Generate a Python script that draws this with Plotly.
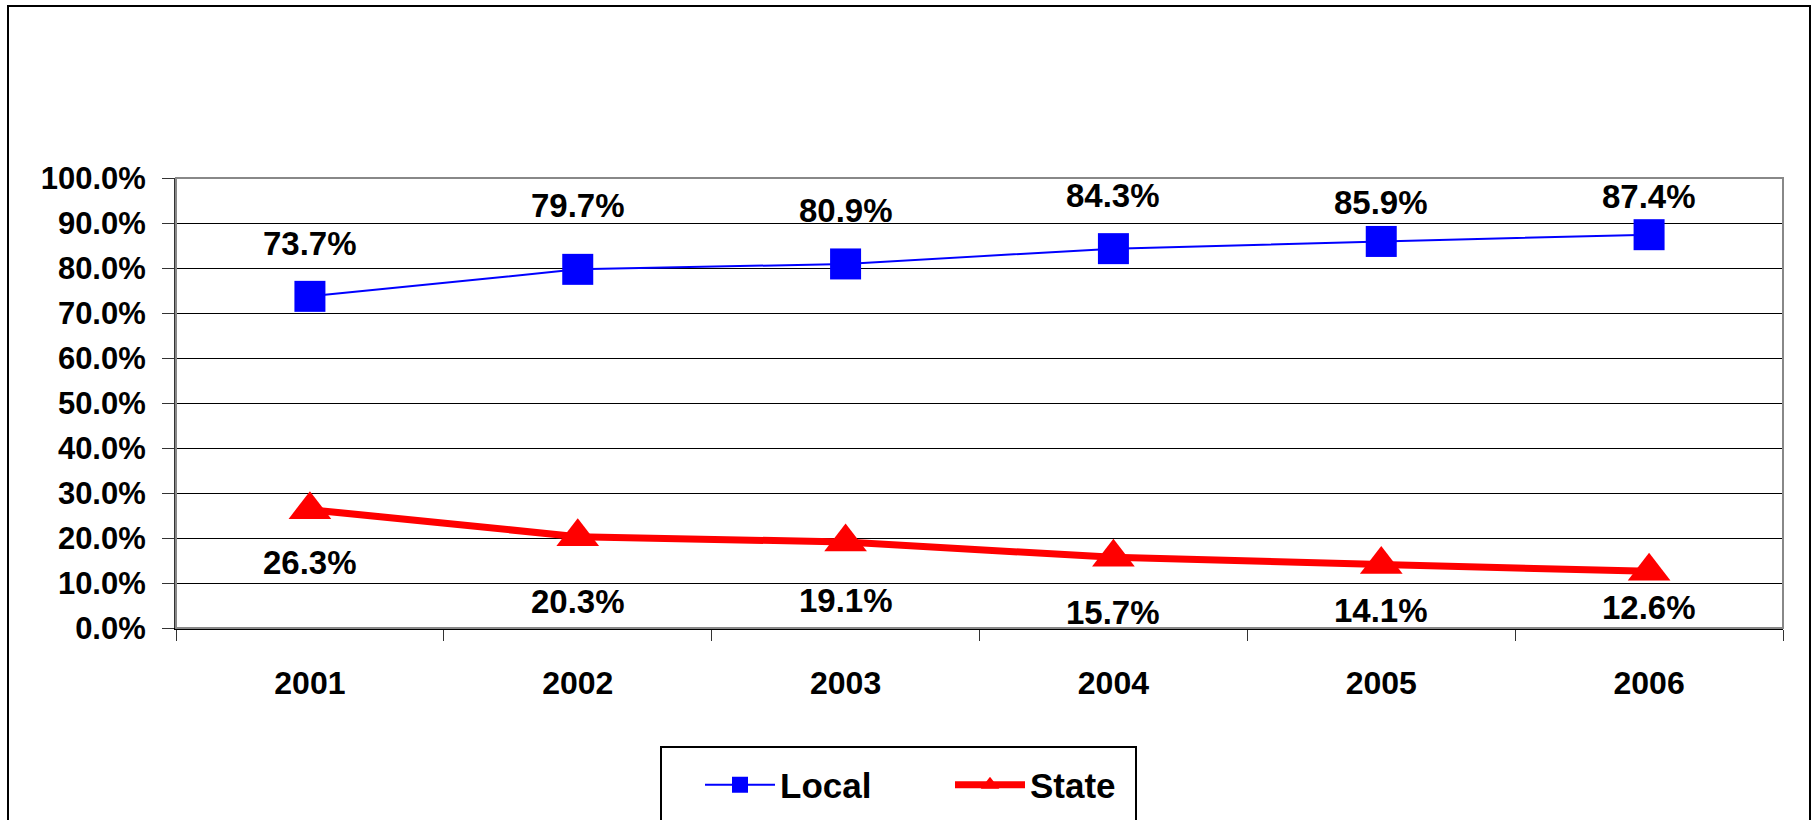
import plotly.graph_objects as go

years = ["2001", "2002", "2003", "2004", "2005", "2006"]
local = [73.7, 79.7, 80.9, 84.3, 85.9, 87.4]
state = [26.3, 20.3, 19.1, 15.7, 14.1, 12.6]
y_ticks = [0, 10, 20, 30, 40, 50, 60, 70, 80, 90, 100]

# label offsets (px) as placed in the original chart
local_label_shift = [53, 64, 53, 53, 39, 38]
state_label_shift = [-53, -65, -58, -55, -46, -36]

FONT = "Liberation Sans, Arial, sans-serif"
W, H = 1815, 820
L, R, T, B = 176, 32, 178, 192
PW, PH = W - L - R, H - T - B


def px_x(p):
    return (p - L) / PW


def px_y(p):
    return (H - B - p) / PH


fig = go.Figure()
fig.add_trace(go.Scatter(
    x=years, y=local, name="Local", mode="lines+markers",
    line=dict(color="#0000FF", width=2),
    marker=dict(symbol="square", size=31, color="#0000FF"),
))
fig.add_trace(go.Scatter(
    x=years, y=state, name="State", mode="lines+markers",
    line=dict(color="#FF0000", width=7),
    marker=dict(symbol="triangle-up", size=37, color="#FF0000"),
))

for i, (v, s) in enumerate(zip(local, local_label_shift)):
    fig.add_annotation(x=i, y=v, yshift=s, text=f"{v:.1f}%", showarrow=False,
                       font=dict(family=FONT, size=33, color="black", weight="bold"))
for i, (v, s) in enumerate(zip(state, state_label_shift)):
    fig.add_annotation(x=i, y=v, yshift=s, text=f"{v:.1f}%", showarrow=False,
                       font=dict(family=FONT, size=33, color="black", weight="bold"))

# outer chart border
fig.add_shape(type="rect", xref="paper", yref="paper",
              x0=px_x(8), x1=px_x(1810), y0=px_y(860), y1=px_y(6),
              line=dict(color="black", width=2), layer="below")
# legend box
fig.add_shape(type="rect", xref="paper", yref="paper",
              x0=px_x(661), x1=px_x(1136), y0=px_y(860), y1=px_y(747),
              line=dict(color="black", width=2), layer="below")
# plot area border (top/right gray)
fig.add_shape(type="rect", xref="paper", yref="paper",
              x0=0, x1=1, y0=0, y1=1,
              line=dict(color="#888888", width=2), layer="above")

fig.update_layout(
    width=W, height=H,
    margin=dict(l=L, r=R, t=T, b=B, autoexpand=False),
    paper_bgcolor="white", plot_bgcolor="white",
    font=dict(family=FONT, color="black"),
    showlegend=True,
    legend=dict(orientation="h", x=px_x(700), xanchor="left",
                y=px_y(785), yanchor="middle",
                font=dict(family=FONT, size=35, color="black", weight="bold"),
                itemwidth=70, entrywidth=165, entrywidthmode="pixels",
                bgcolor="rgba(0,0,0,0)", borderwidth=0),
    xaxis=dict(type="category", range=[-0.5, 5.5], tickson="boundaries",
               ticks="outside", ticklen=11, tickcolor="#333",
               showline=True, linecolor="black", linewidth=2,
               showgrid=False, ticklabelstandoff=26,
               tickfont=dict(family=FONT, size=32, color="black", weight="bold"),
               automargin=False),
    yaxis=dict(range=[0, 100], tickvals=y_ticks, ticktext=[f"{t:.1f}%" for t in y_ticks],
               ticks="outside", ticklen=12, tickcolor="#333",
               showline=True, linecolor="#333", linewidth=2,
               showgrid=True, gridcolor="black", gridwidth=1, zeroline=False,
               ticklabelstandoff=10,
               tickfont=dict(family=FONT, size=31, color="black", weight="bold"),
               automargin=False),
)

fig.write_html("out.html")
